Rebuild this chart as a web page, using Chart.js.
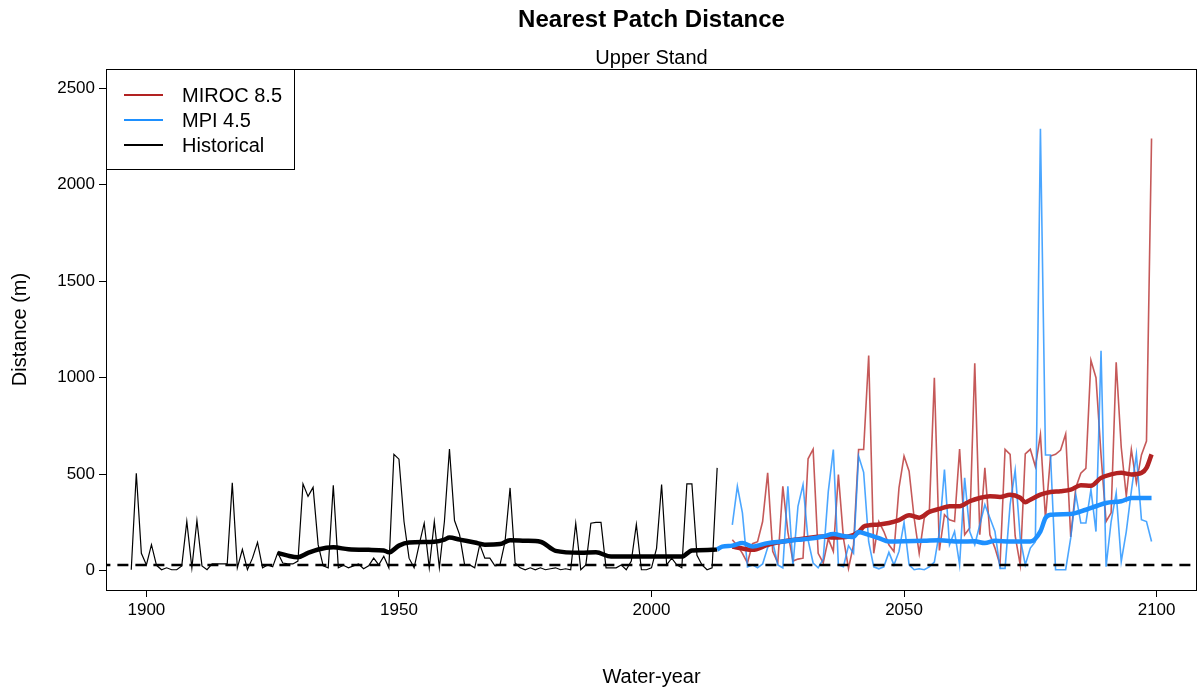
<!DOCTYPE html>
<html>
<head>
<meta charset="utf-8">
<title>Nearest Patch Distance</title>
<script src="https://cdn.jsdelivr.net/npm/chart.js@4.4.1/dist/chart.umd.min.js"></script>
<style>
  html, body { margin: 0; padding: 0; background: #fff; }
  canvas { display: block; }
</style>
</head>
<body>
<canvas id="myChart" width="1199" height="689"></canvas>
<script>
// historical water-years start at 1897, scenarios at 2016
const histStart = 1897;
const futStart = 2016;

const historical = [
  5, 505, 90, 30, 135, 28, 5, 15, 5, 5,
  25, 255, 15, 260, 25, 5, 35, 35, 35, 35,
  455, 15, 110, 5, 65, 147, 15, 30, 20, 93,
  40, 35, 35, 50, 450, 385, 432, 135, 25, 15,
  443, 15, 28, 15, 25, 35, 10, 25, 65, 30,
  75, 15, 603, 578, 255, 65, 15, 135, 246, 15,
  255, 15, 255, 630, 260, 187, 30, 30, 15, 135,
  65, 65, 25, 30, 150, 429, 40, 15, 5, 15,
  5, 15, 5, 10, 15, 5, 10, 5, 246, 5,
  30, 246, 250, 250, 15, 15, 15, 30, 5, 50,
  240, 5, 5, 15, 116, 447, 30, 65, 30, 15,
  450, 450, 80, 30, 5, 15, 533
];

const miroc = [
  160, 130, 90, 40, 140, 150, 255, 507, 100, 40,
  437, 200, 50, 60, 65, 580, 630, 90, 40, 165,
  100, 498, 169, 12, 134, 628, 628, 1115, 90, 255,
  203, 134, 99, 429, 594, 516, 273, 90, 273, 300,
  1000, 105, 290, 264, 255, 630, 186, 221, 1075, 186,
  533, 186, 117, 30, 629, 603, 180, 30, 605, 629,
  540, 705, 270, 594, 603, 625, 708, 175, 430, 505,
  530, 1090, 1000, 600, 255, 300, 1080, 640, 386, 628,
  455, 600, 672, 2240
];

const mpi = [
  238, 437, 300, 20, 30, 15, 35, 120, 150, 30,
  15, 438, 25, 334, 446, 160, 40, 15, 60, 410,
  628, 30, 21, 130, 90, 594, 510, 150, 20, 10,
  20, 95, 30, 100, 250, 30, 5, 10, 5, 20,
  45, 200, 524, 134, 203, 30, 481, 203, 134, 238,
  342, 273, 203, 12, 12, 342, 520, 169, 30, 117,
  150, 2290, 600, 600, 5, 5, 5, 170, 395, 247,
  247, 420, 203, 1140, 21, 255, 403, 47, 203, 412,
  603, 264, 255, 151
];

// smoothed trends
const histSmoothYears = [1926, 1928, 1930, 1932, 1934, 1937, 1940, 1944, 1947, 1948, 1950, 1952, 1957, 1959, 1960, 1962, 1965, 1967, 1970, 1972, 1975, 1978, 1981, 1986, 1989, 1992, 1996, 2006, 2008, 2012, 2013];
const histSmooth = [92, 78, 70, 92, 110, 121, 111, 108, 105, 95, 130, 146, 150, 161, 172, 161, 146, 135, 138, 158, 155, 150, 103, 93, 95, 73, 73, 73, 105, 108, 110];

const mirocSmoothYears = [2016, 2018, 2020, 2023, 2026, 2031, 2034, 2036, 2039, 2041, 2042, 2043, 2045, 2047, 2049, 2051, 2053, 2055, 2057, 2059, 2061, 2063, 2065, 2067, 2069, 2071, 2073, 2074, 2075, 2077, 2079, 2081, 2083, 2085, 2087, 2089, 2091, 2093, 2095, 2097, 2098, 2099];
const mirocSmooth = [125, 115, 108, 134, 151, 169, 177, 172, 177, 200, 228, 235, 240, 247, 262, 288, 275, 305, 320, 334, 334, 360, 377, 386, 382, 394, 378, 355, 368, 394, 408, 412, 420, 443, 440, 481, 499, 507, 499, 507, 533, 603];

const mpiSmoothYears = [2013, 2014, 2016, 2018, 2020, 2023, 2026, 2029, 2031, 2034, 2036, 2038, 2040, 2041, 2043, 2045, 2047, 2050, 2054, 2057, 2061, 2064, 2066, 2068, 2071, 2075, 2077, 2078, 2079, 2083, 2086, 2088, 2090, 2093, 2095, 2099];
const mpiSmooth = [110, 125, 130, 143, 125, 143, 151, 160, 165, 177, 190, 180, 175, 200, 186, 169, 151, 152, 155, 158, 151, 152, 143, 155, 151, 151, 204, 273, 290, 294, 316, 334, 351, 360, 377, 377];

const refLine = 30;
const xTicks = [1900, 1950, 2000, 2050, 2100];
const yTicks = [0, 500, 1000, 1500, 2000, 2500];

const legendItems = [
  { label: 'MIROC 8.5', color: '#B22222' },
  { label: 'MPI 4.5', color: '#1E90FF' },
  { label: 'Historical', color: '#000000' }
];

function pts(start, vals) {
  return vals.map((v, i) => ({ x: start + i, y: v }));
}
function pairs(xs, ys) {
  return xs.map((x, i) => ({ x: x, y: ys[i] }));
}

const FONT = '"Liberation Sans", Arial, sans-serif';

const rPlot = {
  id: 'rPlot',
  afterDraw(chart) {
    const ctx = chart.ctx;
    const a = chart.chartArea;
    ctx.save();
    // box
    ctx.strokeStyle = '#000';
    ctx.lineWidth = 1;
    ctx.strokeRect(a.left + 0.5, a.top + 0.5, a.right - a.left - 1, a.bottom - a.top);
    // titles
    ctx.fillStyle = '#000';
    ctx.textAlign = 'center';
    ctx.textBaseline = 'middle';
    const cx = (a.left + a.right) / 2;
    ctx.font = 'bold 24px ' + FONT;
    ctx.fillText('Nearest Patch Distance', cx, 20);
    ctx.font = '20px ' + FONT;
    ctx.fillText('Upper Stand', cx, 58);
    ctx.fillText('Water-year', cx, 677);
    ctx.save();
    ctx.translate(20, (a.top + a.bottom) / 2);
    ctx.rotate(-Math.PI / 2);
    ctx.fillText('Distance (m)', 0, 0);
    ctx.restore();
    // legend
    ctx.strokeRect(a.left + 0.5, a.top + 0.5, 188, 100);
    ctx.textAlign = 'left';
    ctx.font = '20px ' + FONT;
    legendItems.forEach((it, i) => {
      const y = a.top + 26 + i * 25;
      ctx.strokeStyle = it.color;
      ctx.lineWidth = 2;
      ctx.beginPath();
      ctx.moveTo(a.left + 18, y);
      ctx.lineTo(a.left + 57, y);
      ctx.stroke();
      ctx.fillStyle = '#000';
      ctx.fillText(it.label, a.left + 76, y + 1);
    });
    ctx.restore();
  }
};

const ctx = document.getElementById('myChart');

new Chart(ctx, {
  type: 'line',
  data: {
    datasets: [
      {
        label: 'ref',
        data: [{ x: 1880, y: refLine }, { x: 2120, y: refLine }],
        borderColor: '#000', borderWidth: 2.5, borderDash: [11, 7],
        pointRadius: 0, order: 0
      },
      {
        label: 'MPI 4.5 smooth',
        data: pairs(mpiSmoothYears, mpiSmooth),
        borderColor: '#1E90FF', borderWidth: 4.5,
        pointRadius: 0, cubicInterpolationMode: 'monotone', order: 1
      },
      {
        label: 'MIROC 8.5 smooth',
        data: pairs(mirocSmoothYears, mirocSmooth),
        borderColor: '#B22222', borderWidth: 4.5,
        pointRadius: 0, cubicInterpolationMode: 'monotone', order: 2
      },
      {
        label: 'Historical smooth',
        data: pairs(histSmoothYears, histSmooth),
        borderColor: '#000', borderWidth: 4.5,
        pointRadius: 0, cubicInterpolationMode: 'monotone', order: 3
      },
      {
        label: 'MPI 4.5',
        data: pts(futStart, mpi),
        borderColor: 'rgba(30,144,255,0.8)', borderWidth: 1.6,
        pointRadius: 0, order: 4
      },
      {
        label: 'MIROC 8.5',
        data: pts(futStart, miroc),
        borderColor: 'rgba(178,34,34,0.75)', borderWidth: 1.6,
        pointRadius: 0, order: 5
      },
      {
        label: 'Historical',
        data: pts(histStart, historical),
        borderColor: '#000', borderWidth: 1.2,
        pointRadius: 0, order: 6
      }
    ]
  },
  options: {
    responsive: false,
    animation: false,
    devicePixelRatio: 1,
    layout: { padding: { left: 0, right: 2, top: 69, bottom: 0 } },
    plugins: {
      legend: { display: false },
      tooltip: { enabled: false }
    },
    scales: {
      x: {
        type: 'linear',
        min: 1892,
        max: 2108,
        afterBuildTicks: s => { s.ticks = xTicks.map(v => ({ value: v })); },
        afterFit: s => { s.height = 99; },
        border: { display: false },
        grid: { drawOnChartArea: false, drawTicks: true, tickLength: 7, tickColor: '#000', tickWidth: 1 },
        ticks: { color: '#000', font: { family: FONT, size: 17 }, padding: 3, maxRotation: 0,
          callback: v => String(v) }
      },
      y: {
        type: 'linear',
        min: -100,
        max: 2600,
        afterBuildTicks: s => { s.ticks = yTicks.map(v => ({ value: v })); },
        afterFit: s => { s.width = 106; },
        border: { display: false },
        grid: { drawOnChartArea: false, drawTicks: true, tickLength: 7, tickColor: '#000', tickWidth: 1 },
        ticks: { color: '#000', font: { family: FONT, size: 17 }, padding: 4,
          callback: v => String(v) }
      }
    }
  },
  plugins: [rPlot]
});
</script>
</body>
</html>
